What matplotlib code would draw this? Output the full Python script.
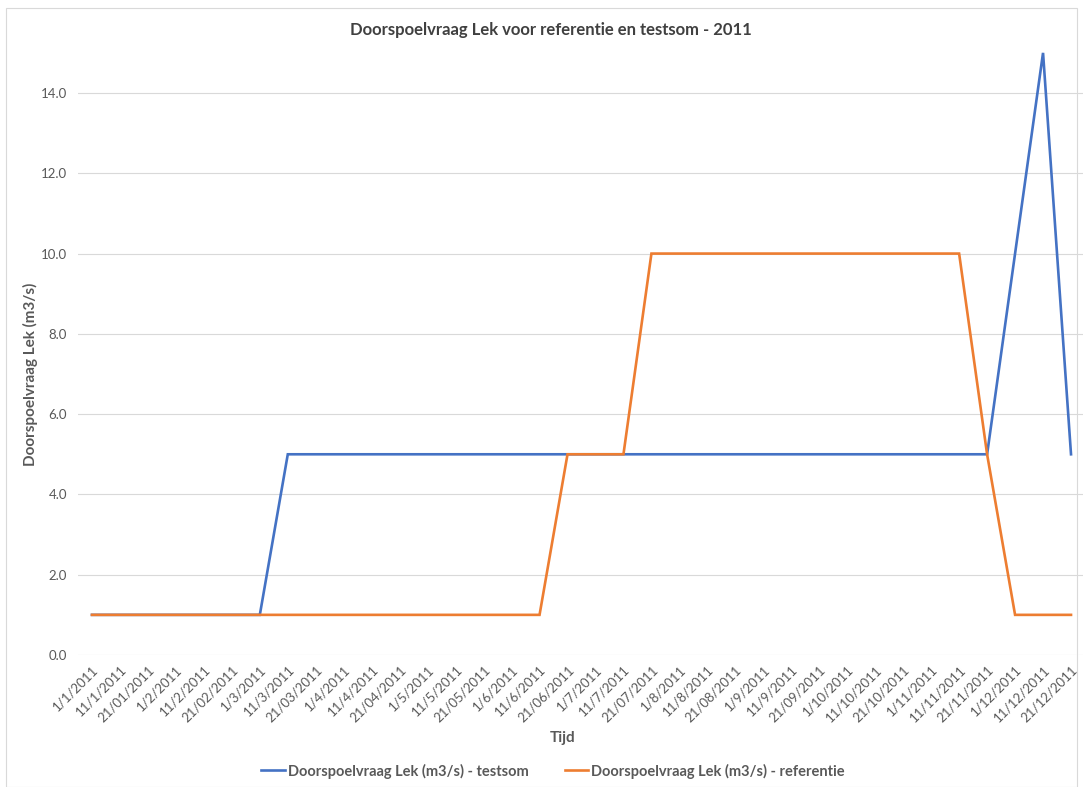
import matplotlib
matplotlib.use("Agg")
import matplotlib.pyplot as plt
from matplotlib.patches import Rectangle

plt.rcParams['font.family'] = ['Lato', 'DejaVu Sans']

dates = ["1/1/2011", "11/1/2011", "21/01/2011", "1/2/2011", "11/2/2011", "21/02/2011",
         "1/3/2011", "11/3/2011", "21/03/2011", "1/4/2011", "11/4/2011", "21/04/2011",
         "1/5/2011", "11/5/2011", "21/05/2011", "1/6/2011", "11/6/2011", "21/06/2011",
         "1/7/2011", "11/7/2011", "21/07/2011", "1/8/2011", "11/8/2011", "21/08/2011",
         "1/9/2011", "11/9/2011", "21/09/2011", "1/10/2011", "11/10/2011", "21/10/2011",
         "1/11/2011", "11/11/2011", "21/11/2011", "1/12/2011", "11/12/2011", "21/12/2011"]

testsom = [1, 1, 1, 1, 1, 1,
           1, 5, 5, 5, 5, 5,
           5, 5, 5, 5, 5, 5,
           5, 5, 5, 5, 5, 5,
           5, 5, 5, 5, 5, 5,
           5, 5, 5, 10, 15, 5]

referentie = [1, 1, 1, 1, 1, 1,
              1, 1, 1, 1, 1, 1,
              1, 1, 1, 1, 1, 5,
              5, 5, 10, 10, 10, 10,
              10, 10, 10, 10, 10, 10,
              10, 10, 5, 1, 1, 1]

yticks = [0, 2, 4, 6, 8, 10, 12, 14]

W, H = 1083, 787
fig = plt.figure(figsize=(W / 100, H / 100), dpi=100)
fig.patch.set_facecolor("white")

# chart frame
fig.patches.append(Rectangle((6 / W, 0), (1077 - 6) / W, (H - 8) / H,
                             transform=fig.transFigure, fill=False,
                             edgecolor="#D9D9D9", linewidth=0.8))

y0, ytop = 655, 93
ppu = (y0 - ytop) / 14.0
ymax = 15.4
ax_top = y0 - ymax * ppu
left, right = 78, 1085
ax = fig.add_axes([left / W, 1 - y0 / H, (right - left) / W, (y0 - ax_top) / H])

x = list(range(len(dates)))
grey = "#595959"
ax.plot(x, testsom, color="#4472C4", linewidth=1.9,
        label="Doorspoelvraag Lek (m3/s) - testsom", solid_joinstyle="miter")
ax.plot(x, referentie, color="#ED7D31", linewidth=1.9,
        label="Doorspoelvraag Lek (m3/s) - referentie", solid_joinstyle="miter")

ax.set_xlim(-0.5, len(dates) - 0.5)
ax.set_ylim(0, ymax)
ax.set_yticks(yticks)
ax.set_yticklabels([f"{v:.1f}" for v in yticks])
ax.set_xticks(x)
ax.set_xticklabels(dates, rotation=45, ha="right", rotation_mode="anchor")
ax.yaxis.grid(True, color="#D9D9D9", linewidth=0.8)
ax.set_axisbelow(True)
for s in ax.spines.values():
    s.set_visible(False)
ax.tick_params(axis="both", length=0, colors=grey, labelsize=9.5)
ax.tick_params(axis="y", pad=8)
ax.tick_params(axis="x", pad=6)

fig.text(551 / W, 1 - 30 / H, "Doorspoelvraag Lek voor referentie en testsom - 2011",
         ha="center", va="center", fontsize=12, color="#404040", fontweight="bold")
fig.text(30 / W, 1 - 374 / H, "Doorspoelvraag Lek (m3/s)", rotation=90,
         ha="center", va="center", fontsize=11, color=grey, fontweight="bold")
fig.text(563 / W, 1 - 738 / H, "Tijd", ha="center", va="center",
         fontsize=11, color=grey, fontweight="bold")

leg = fig.legend(loc="center", bbox_to_anchor=(553 / W, 1 - 771 / H), ncol=2,
                 frameon=False, fontsize=10.5, handlelength=1.6, handletextpad=0.2,
                 columnspacing=2.5)
for t in leg.get_texts():
    t.set_color(grey)
    t.set_fontweight("bold")

fig.savefig("out.png", dpi=100)
